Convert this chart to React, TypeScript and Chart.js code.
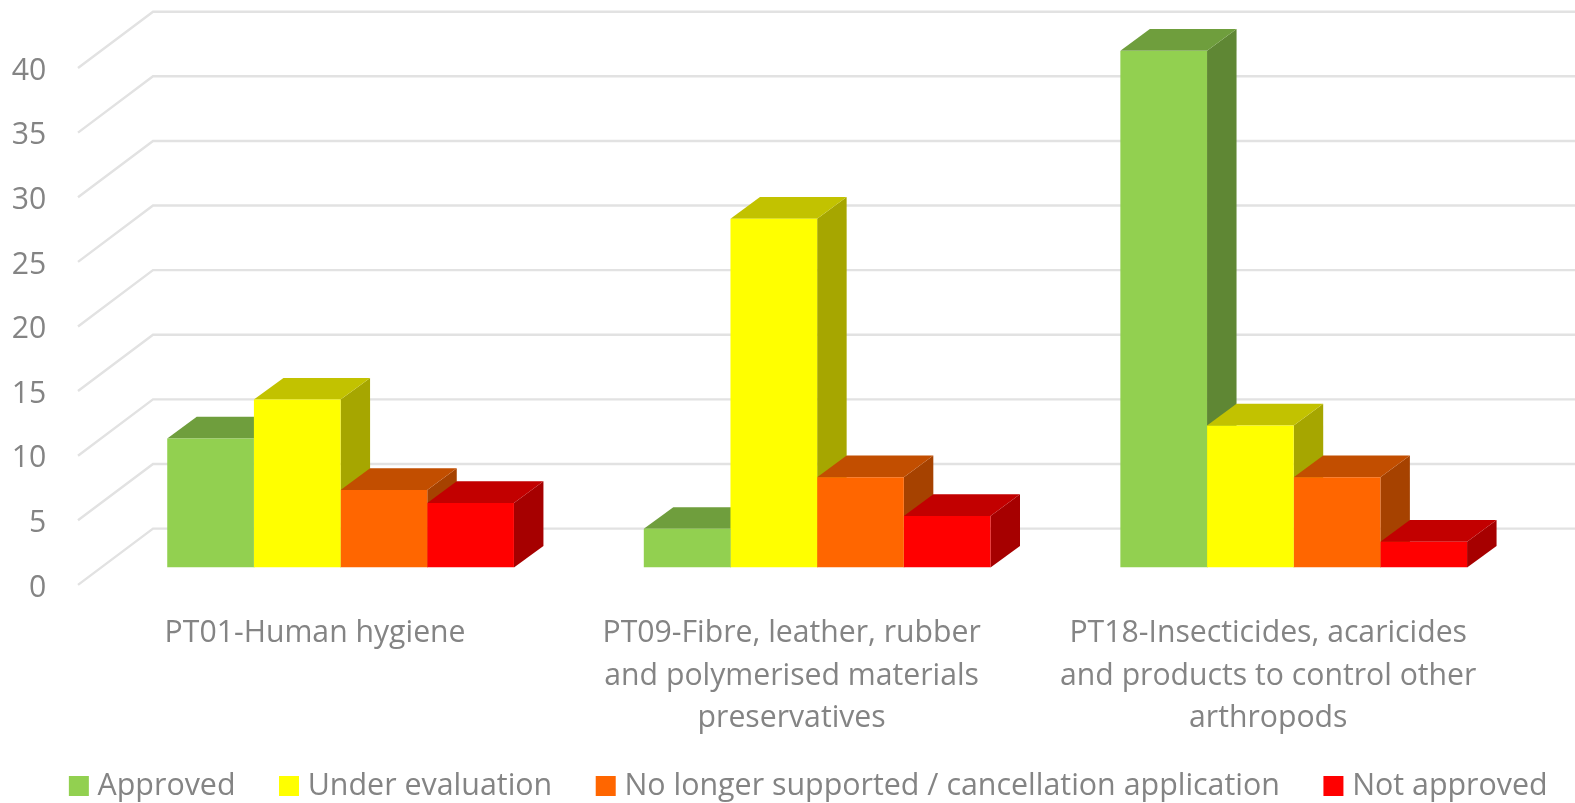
import React, { useEffect, useRef } from "react";
import { Chart, registerables } from "chart.js";

Chart.register(...registerables);

const categories = [
  ["PT01-Human hygiene"],
  ["PT09-Fibre, leather, rubber", "and polymerised materials", "preservatives"],
  ["PT18-Insecticides, acaricides", "and products to control other", "arthropods"],
];
const seriesNames = ["Approved", "Under evaluation", "No longer supported / cancellation application", "Not approved"];
const approved = [10, 3, 40];
const underEvaluation = [13, 27, 11];
const noLongerSupported = [6, 7, 7];
const notApproved = [5, 4, 2];
const frontColors = ["#92D050", "#FFFF00", "#FF6600", "#FF0000"];
const topColors = ["#6F9E3D", "#C2C200", "#C24E00", "#C20000"];
const sideColors = ["#5F8734", "#A6A600", "#A64200", "#A60000"];

const FONT = { family: "'Open Sans'", size: 30.2, lineHeight: 1.4 };
const LEGEND_FONT = { family: "'Open Sans'", size: 30.4, lineHeight: 1.41 };
const TEXT = "#848484";
const GRID = "#E2E2E2";
const BAR_DX = 29.5;
const BAR_DY = -21.7;

function poly(ctx: CanvasRenderingContext2D, pts: number[][], color: string) {
  ctx.beginPath();
  pts.forEach((p, i) => (i ? ctx.lineTo(p[0], p[1]) : ctx.moveTo(p[0], p[1])));
  ctx.closePath();
  ctx.fillStyle = color;
  ctx.fill();
}

const threeD = {
  id: "threeD",
  afterLayout(chart: any) {
    // the long category labels reach below the axis box: keep them from being clipped
    chart.scales.x.bottom = chart.height;
  },
  beforeDatasetsDraw(chart: any) {
    const { ctx, scales } = chart;
    const y = scales.y;
    const wallFront = scales.x.left - 24.3;
    const wallBack = wallFront + 75;
    ctx.save();
    ctx.strokeStyle = GRID;
    ctx.lineWidth = 2.4;
    y.ticks.forEach((t: any) => {
      const py = y.getPixelForValue(t.value);
      ctx.beginPath();
      ctx.moveTo(wallFront, py + 17.3);
      ctx.lineTo(wallBack, py - 39);
      ctx.lineTo(chart.width, py - 39);
      ctx.stroke();
    });
    chart.data.datasets.forEach((_: any, i: number) => {
      chart.getDatasetMeta(i).data.forEach((bar: any) => {
        const { x, y: top, base, width } = bar.getProps(["x", "y", "base", "width"], true);
        const l = x - width / 2;
        const r = x + width / 2;
        poly(ctx, [[r, top], [r + BAR_DX, top + BAR_DY], [r + BAR_DX, base + BAR_DY], [r, base]], sideColors[i]);
        poly(ctx, [[l, top], [l + BAR_DX, top + BAR_DY], [r + BAR_DX, top + BAR_DY], [r, top]], topColors[i]);
      });
    });
    ctx.restore();
  },
};

export default function App() {
  const ref = useRef<HTMLCanvasElement>(null);
  useEffect(() => {
    const values = [approved, underEvaluation, noLongerSupported, notApproved];
    const chart = new Chart(ref.current as HTMLCanvasElement, {
      type: "bar",
      data: {
        labels: categories,
        datasets: seriesNames.map((label, i) => ({
          label,
          data: values[i],
          backgroundColor: frontColors[i],
          borderWidth: 0,
          categoryPercentage: 0.7275,
          barPercentage: 1,
        })),
      },
      options: {
        responsive: false,
        animation: false,
        layout: { padding: { left: 0, right: -48, top: 50.7, bottom: -8.3 } },
        scales: {
          x: {
            grid: { display: false, drawTicks: false },
            border: { display: false },
            afterFit: (s: any) => { s.height = 153.3; },
            ticks: {
              color: TEXT, font: FONT, padding: 45, labelOffset: -25.5,
              maxRotation: 0, minRotation: 0, autoSkip: false,
            },
          },
          y: {
            min: 0, max: 40,
            grid: { display: false, drawTicks: false },
            border: { display: false },
            afterFit: (s: any) => { s.width = 102.3; s.paddingTop = 0; s.paddingBottom = 0; },
            ticks: { stepSize: 5, color: TEXT, font: FONT, padding: 56, labelOffset: 20.5 },
          },
          yRight: {
            position: "right",
            grid: { display: false, drawTicks: false },
            border: { display: false },
            afterFit: (s: any) => { s.width = 91; },
            ticks: { display: false },
          },
        },
        plugins: {
          tooltip: { enabled: false },
          legend: {
            position: "bottom",
            labels: {
              color: TEXT, font: LEGEND_FONT, usePointStyle: true, pointStyle: "rect",
              boxWidth: 7, boxHeight: 20, padding: 50,
            },
          },
        },
      } as any,
      plugins: [threeD],
    });
    return () => chart.destroy();
  }, []);
  return (
    <div style={{ position: "fixed", left: 0, top: 0, width: 1575, height: 803, background: "#fff", overflow: "hidden" }}>
      <canvas ref={ref} width={1575} height={803} style={{ display: "block" }} />
    </div>
  );
}
